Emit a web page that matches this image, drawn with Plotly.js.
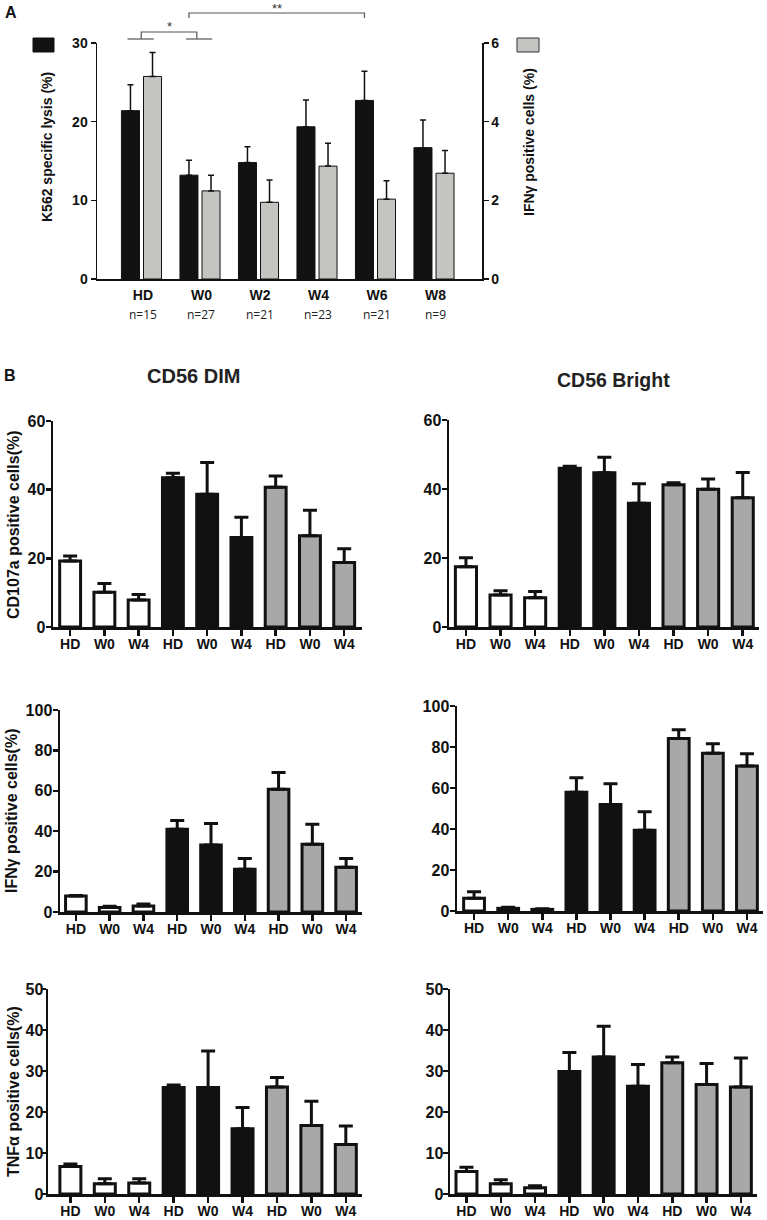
<!DOCTYPE html>
<html><head><meta charset="utf-8">
<script src="https://cdn.plot.ly/plotly-3.0.1.min.js"></script>
<style>html,body{margin:0;padding:0;background:#fff}#chart{width:767px;height:1220px}</style>
</head><body><div id="chart"></div>
<script>
// ---------- Panel A data ----------
const aCategories = ['HD','W0','W2','W4','W6','W8'];
const aSampleSizes = ['n=15','n=27','n=21','n=23','n=21','n=9'];
const aLysis = [21.4, 13.2, 14.8, 19.35, 22.7, 16.7];
const aLysisErr = [3.3, 1.9, 2.0, 3.4, 3.7, 3.5];
const aIfng = [5.15, 2.24, 1.95, 2.87, 2.03, 2.69];
const aIfngErr = [0.61, 0.40, 0.57, 0.58, 0.47, 0.58];
const sigBrackets = [
  {from:'HD', to:'W0', label:'*', kind:'pairs'},
  {from:'W0', to:'W6', label:'**', kind:'black'}
];

// ---------- Panel B data ----------
const bTimepoints = ['HD','W0','W4'];
const bConditions = ['condition 1','condition 2','condition 3'];
const dimCD107a    = [19.2, 10.1, 7.9,  43.5, 38.7, 26.1,  40.7, 26.6, 18.8];
const dimCD107aErr = [1.5, 2.6, 1.6,    1.3, 9.2, 5.9,     3.3, 7.4, 4.0];
const brCD107a     = [17.5, 9.3, 8.5,   46.0, 44.7, 35.9,  41.2, 39.9, 37.5];
const brCD107aErr  = [2.6, 1.2, 1.8,    0.6, 4.5, 5.6,     0.6, 3.0, 7.3];
const dimIFNg      = [7.9, 2.2, 3.0,    41.0, 33.2, 21.2,  60.8, 33.6, 22.2];
const dimIFNgErr   = [0.3, 0.7, 0.9,    4.3, 10.6, 5.3,    8.3, 9.9, 4.3];
const brIFNg       = [6.2, 1.3, 0.8,    57.9, 51.9, 39.4,  84.2, 76.9, 70.7];
const brIFNgErr    = [3.2, 0.5, 0.3,    7.1, 10.2, 9.0,    4.2, 4.7, 6.0];
const dimTNFa      = [6.7, 2.5, 2.7,    26.0, 26.0, 15.9,  26.1, 16.7, 12.1];
const dimTNFaErr   = [0.6, 1.2, 1.0,    0.6, 8.9, 5.2,     2.3, 5.9, 4.5];
const brTNFa       = [5.5, 2.5, 1.5,    29.9, 33.4, 26.3,  32.0, 26.7, 26.1];
const brTNFaErr    = [1.0, 1.0, 0.5,    4.6, 7.5, 5.3,     1.4, 5.1, 7.1];

// ---------- helpers / styling ----------
const W = 767, H = 1220;
const px = v => v / W;
const py = v => 1 - v / H;
const FONT = 'Liberation Sans, Arial, Helvetica, sans-serif';
const INK = '#111111';
const bFill = ['#ffffff', '#111111', '#a8a8a8'];

const traces = [];
const annotations = [];
const shapes = [];
const layout = {
  width: W, height: H,
  margin: {l:0, r:0, t:0, b:0},
  paper_bgcolor: '#fff', plot_bgcolor: 'rgba(0,0,0,0)',
  barmode: 'overlay',
  showlegend: false,
  font: {family: FONT, color: INK},
  annotations, shapes
};
function note(o) {
  annotations.push(Object.assign({xref:'paper', yref:'paper', showarrow:false,
    xanchor:'center', yanchor:'middle'}, o));
}

// ---------- Panel A ----------
const aIdx = aCategories.map((_, i) => i);
const aBarW = 0.308, aOffBlack = -0.368, aOffGray = 0.009;
traces.push({
  type:'bar', x:aIdx, y:aLysis, xaxis:'x', yaxis:'y',
  width:aBarW, offset:aOffBlack,
  marker:{color:'#121212', line:{color:INK, width:1}},
  error_y:{type:'data', symmetric:false, array:aLysisErr, arrayminus:aLysis.map(()=>0),
           color:INK, thickness:1.5, width:3},
  hoverinfo:'skip'
});
traces.push({
  type:'bar', x:aIdx, y:aIfng, xaxis:'x', yaxis:'y2',
  width:aBarW, offset:aOffGray,
  marker:{color:'#c4c4c0', line:{color:INK, width:1}},
  error_y:{type:'data', symmetric:false, array:aIfngErr, arrayminus:aIfng.map(()=>0),
           color:INK, thickness:1.5, width:3},
  hoverinfo:'skip'
});
const aTick = {family:FONT, size:14, color:INK, weight:'bold'};
layout.xaxis = {
  domain:[px(97), px(482)], anchor:'y', range:[-0.786, 5.795],
  tickvals:aIdx, ticktext:aCategories, ticks:'', ticklabelstandoff:3,
  showline:true, linecolor:INK, linewidth:1.5, showgrid:false, zeroline:false,
  tickfont:{family:FONT, size:14, color:INK, weight:'bold'}
};
layout.yaxis = {
  domain:[py(279), py(43)], anchor:'x', range:[0,30], tickvals:[0,10,20,30],
  ticks:'outside', ticklen:5, tickwidth:1.5, tickcolor:INK,
  showline:true, linecolor:INK, linewidth:1.5, showgrid:false, zeroline:false,
  tickfont:aTick
};
layout.yaxis2 = {
  overlaying:'y', side:'right', anchor:'x', range:[0,6], tickvals:[0,2,4,6],
  ticks:'outside', ticklen:5, tickwidth:1.5, tickcolor:INK,
  showline:true, linecolor:INK, linewidth:1.5, showgrid:false, zeroline:false,
  tickfont:aTick
};
// sample sizes under categories
aSampleSizes.forEach((t, i) => note({
  text:t, x:aIdx[i], xref:'x', y:py(314),
  font:{family:'Open Sans, sans-serif', size:12, color:'#222'}
}));
// axis titles
note({text:'K562 specific lysis (%)', x:px(47), y:py(147), textangle:-90,
  font:{family:FONT, size:14, color:INK, weight:'bold'}});
note({text:'IFNγ positive cells (%)', x:px(529), y:py(142), textangle:-90,
  font:{family:FONT, size:14, color:INK, weight:'bold'}});
note({text:'A', x:px(11), y:py(13), font:{family:FONT, size:16, color:INK, weight:'bold'}});
// legend swatches
shapes.push({type:'rect', xref:'paper', yref:'paper', x0:px(33), x1:px(54), y0:py(52), y1:py(38),
  fillcolor:'#121212', line:{color:INK, width:1}});
shapes.push({type:'rect', xref:'paper', yref:'paper', x0:px(517), x1:px(539), y0:py(52), y1:py(38),
  fillcolor:'#c4c4c0', line:{color:'#333', width:1}});
// significance brackets
const bracketColor = '#555';
sigBrackets.forEach(b => {
  const i0 = aCategories.indexOf(b.from), i1 = aCategories.indexOf(b.to);
  if (b.kind === 'pairs') {
    const blackC = aOffBlack + aBarW/2, grayC = aOffGray + aBarW/2;
    [i0, i1].forEach(i => shapes.push({type:'line', xref:'x', yref:'paper',
      x0:i + blackC - 0.05, x1:i + grayC + 0.02, y0:py(39), y1:py(39),
      line:{color:bracketColor, width:1.2}}));
    const m0 = i0 - 0.03, m1 = i1 - 0.08;
    shapes.push({type:'path', xref:'x', yref:'paper',
      path:`M ${m0},${py(39)} L ${m0},${py(32)} L ${m1},${py(32)} L ${m1},${py(39)}`,
      line:{color:bracketColor, width:1.2}});
    note({text:b.label, x:(m0+m1)/2, xref:'x', y:py(27), font:{family:FONT, size:13, color:'#333'}});
  } else {
    const c = aOffBlack + aBarW/2;
    const m0 = i0 + c, m1 = i1 + c;
    shapes.push({type:'path', xref:'x', yref:'paper',
      path:`M ${m0},${py(18)} L ${m0},${py(13)} L ${m1},${py(13)} L ${m1},${py(18)}`,
      line:{color:bracketColor, width:1.2}});
    note({text:b.label, x:(m0+m1)/2, xref:'x', y:py(8), font:{family:FONT, size:13, color:'#333'}});
  }
});

// ---------- Panel B ----------
note({text:'B', x:px(10), y:py(376), font:{family:FONT, size:16, color:INK, weight:'bold'}});
note({text:'CD56 DIM', x:px(193), y:py(376), font:{family:FONT, size:20, color:'#222', weight:'bold'}});
note({text:'CD56 Bright', x:px(613), y:py(380), font:{family:FONT, size:19.5, color:'#222', weight:'bold'}});

const bLabels = [];
bConditions.forEach(() => bTimepoints.forEach(t => bLabels.push(t)));
const bIdx = bLabels.map((_, i) => i);

const panels = [
  {vals:dimCD107a, err:dimCD107aErr, ymax:60, dt:20, dom:[53,362,421,627], xr:[-0.5,8.52], ys:-3, title:'CD107a positive cells(%)', tx:13, ty:525},
  {vals:brCD107a,  err:brCD107aErr,  ymax:60, dt:20, dom:[449,759,420,627], xr:[-0.49,8.47], ys:-3},
  {vals:dimIFNg,   err:dimIFNgErr,   ymax:100, dt:20, dom:[60,362,710,912], xr:[-0.47,8.47], ys:-3, title:'IFNγ positive cells(%)', tx:12, ty:811},
  {vals:brIFNg,    err:brIFNgErr,    ymax:100, dt:20, dom:[457,763,706,911], xr:[-0.5,8.47], ys:-3},
  {vals:dimTNFa,   err:dimTNFaErr,   ymax:50, dt:10, dom:[48,362,989,1194], xr:[-0.65,8.47], ys:-6, title:'TNFα positive cells(%)', tx:13, ty:1092},
  {vals:brTNFa,    err:brTNFaErr,    ymax:50, dt:10, dom:[450,757,989,1194], xr:[-0.48,8.47], ys:-4}
];

panels.forEach((p, k) => {
  const xa = 'x' + (k + 2), ya = 'y' + (k + 3);
  bConditions.forEach((c, g) => {
    const sl = [g*3, g*3+3];
    const yv = p.vals.slice(...sl);
    traces.push({
      type:'bar', name:c, x:bIdx.slice(...sl), y:yv, xaxis:xa, yaxis:ya,
      width:0.61,
      marker:{color:bFill[g], line:{color:INK, width:3}},
      error_y:{type:'data', symmetric:false, array:p.err.slice(...sl), arrayminus:yv.map(()=>0),
               color:INK, thickness:3, width:7},
      hoverinfo:'skip'
    });
  });
  const [x0, x1, yTop, yBot] = p.dom;
  layout['xaxis' + (k + 2)] = {
    domain:[px(x0), px(x1)], anchor:ya, range:p.xr,
    tickvals:bIdx, ticktext:bLabels, ticks:'outside', ticklen:6, tickwidth:2.5, tickcolor:INK,
    ticklabelstandoff:-3,
    showline:true, linecolor:INK, linewidth:2.5, showgrid:false, zeroline:false,
    tickfont:{family:FONT, size:14, color:INK, weight:'bold'}
  };
  const tv = [];
  for (let v = 0; v <= p.ymax; v += p.dt) tv.push(v);
  layout['yaxis' + (k + 3)] = {
    domain:[py(yBot), py(yTop)], anchor:xa, range:[0, p.ymax], tickvals:tv,
    ticks:'outside', ticklen:5, tickwidth:2.5, tickcolor:INK, ticklabelstandoff:p.ys,
    showline:true, linecolor:INK, linewidth:2.5, showgrid:false, zeroline:false,
    tickfont:{family:FONT, size:16, color:INK, weight:'bold'}
  };
  if (p.title) note({text:p.title, x:px(p.tx), y:py(p.ty), textangle:-90,
    font:{family:FONT, size:16, color:INK, weight:'bold'}});
});

Plotly.newPlot('chart', traces, layout, {staticPlot:true, displayModeBar:false});
</script></body></html>
